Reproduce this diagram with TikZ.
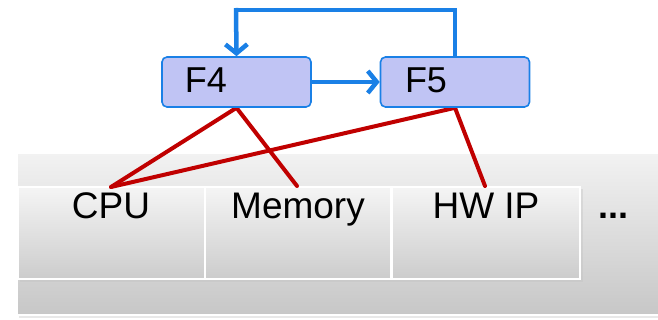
\documentclass[tikz,border=0pt]{standalone}
\usepackage{fontspec}
\setmainfont{Liberation Sans}
\usetikzlibrary{arrows.meta,calc}
\definecolor{flowblue}{HTML}{1A80E6}
\definecolor{fnfill}{HTML}{C0C4F4}
\definecolor{linkred}{HTML}{C00000}
\pgfdeclarelayer{platform}
\pgfdeclarelayer{links}
\pgfsetlayers{platform,links,main}
\tikzset{
  x=1pt, y=-1pt,
  layer/.style={draw=white, line width=1.5pt, top color=#1, bottom color=black!22},
  unitbox/.style={draw=white, line width=1.2pt, top color=white!96!black, bottom color=black!20},
  fnbox/.style={draw=flowblue, line width=1.6pt, fill=fnfill, rounded corners=5pt,
    minimum width=149pt, minimum height=50pt, inner sep=0pt},
  fnlabel/.style={font=\fontsize{36}{36}\selectfont, anchor=base},
  unitlabel/.style={font=\fontsize{37}{37}\selectfont, anchor=base},
  flow/.style={draw=flowblue, line width=4.5pt, -{Straight Barb[length=9pt,width=22pt]}},
  flowline/.style={draw=flowblue, line width=4.5pt},
  link/.style={draw=linkred, line width=4pt, line cap=round},
  shade/.style={fill=black!25, opacity=0.35}
}
\begin{document}
\begin{tikzpicture}
\useasboundingbox (0,0) rectangle (658,320);

\begin{pgfonlayer}{platform}
\fill[white] (0,0) rectangle (658,320);
% platform layer
\fill[shade] (19,155) rectangle (660,318);
\path[layer=white!95!black] (17,153) rectangle (659,315);
% hardware units
\fill[shade] (20,189) rectangle (583,282);
\path[unitbox] (18,187) rectangle (205,279);
\path[unitbox] (205,187) rectangle (391,279);
\path[unitbox] (392,187) rectangle (580,279);
\end{pgfonlayer}

\node[unitlabel] (cpu) at (111,219) {CPU};
\node[unitlabel] (mem) at (298,219) {Memory};
\node[unitlabel] (hwip) at (486,219) {HW IP};
\node[unitlabel, font=\fontsize{36}{36}\selectfont\bfseries] (more) at (613,219) {...};

\coordinate (cpuT) at (111,187);
\coordinate (memT) at (297,186);
\coordinate (hwT) at (485,186);

% functions
\node[fnbox] (f4) at (236.5,82) {};
\node[fnbox] (f5) at (455,82) {};
\node[fnlabel] (f4t) at (206,93) {F4};
\node[fnlabel] (f5t) at (426,93) {F5};

% mapping of functions onto units
\begin{pgfonlayer}{links}
\path[link] (f4.south) -- (cpuT);
\path[link] (f4.south) -- (memT);
\path[link] (f5.south) -- (cpuT);
\path[link] (f5.south) -- (hwT);
\end{pgfonlayer}

% control flow
\path[flow] (f4.east) -- (f5.west);
\coordinate (loopR) at (455,10);
\coordinate (loopL) at (236,10);
\path[flowline] ($(f5.north)+(0,1)$) -- (loopR) -- (loopL) -- ++(0,2);
\path[flow] ($(loopL)+(0,-2)$) -- (f4.north);
\end{tikzpicture}
\end{document}
